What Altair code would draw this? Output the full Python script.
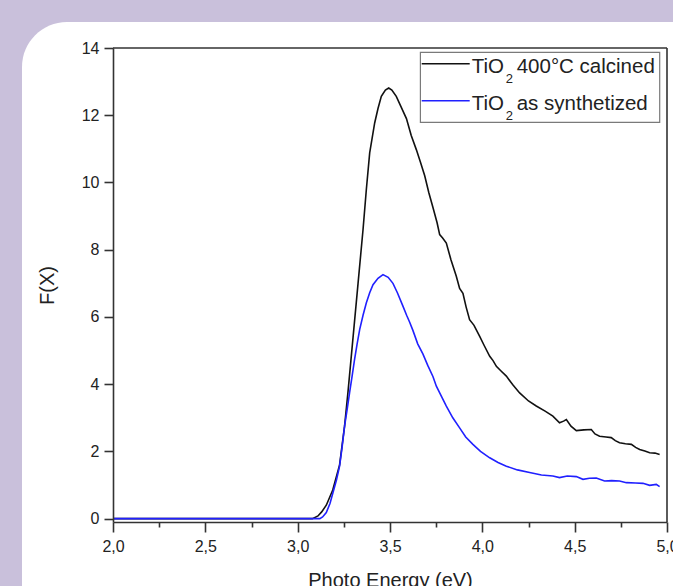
import altair as alt
import pandas as pd

# ---- data ----
calc_x = [2.00, 3.00, 3.08, 3.11, 3.13, 3.155, 3.19, 3.227, 3.254, 3.272, 3.30, 3.327, 3.354, 3.372,
          3.390, 3.417, 3.435, 3.453, 3.475, 3.493, 3.51, 3.534, 3.56, 3.589, 3.615, 3.643, 3.665,
          3.688, 3.71, 3.733, 3.755, 3.769, 3.785, 3.805, 3.83, 3.859, 3.877, 3.895, 3.912, 3.931,
          3.955, 3.985, 4.01, 4.040, 4.058, 4.076, 4.10, 4.130, 4.165, 4.202, 4.25, 4.292, 4.34,
          4.382, 4.418, 4.44, 4.455, 4.48, 4.509, 4.55, 4.590, 4.61, 4.635, 4.67, 4.698, 4.72,
          4.743, 4.775, 4.807, 4.83, 4.852, 4.88, 4.906, 4.935, 4.96]
calc_y = [0, 0, 0.0, 0.08, 0.2, 0.4, 0.85, 1.6, 2.75, 3.74, 5.4, 7.0, 8.6, 9.8,
          10.88, 11.77, 12.2, 12.56, 12.75, 12.81, 12.75, 12.56, 12.25, 11.9, 11.4, 10.97, 10.6,
          10.2, 9.7, 9.25, 8.8, 8.45, 8.35, 8.2, 7.7, 7.21, 6.85, 6.7, 6.3, 5.92,
          5.75, 5.43, 5.15, 4.83, 4.7, 4.53, 4.4, 4.24, 3.98, 3.74, 3.5, 3.35, 3.2,
          3.05, 2.85, 2.9, 2.95, 2.75, 2.62, 2.64, 2.65, 2.52, 2.45, 2.43, 2.41, 2.32,
          2.26, 2.23, 2.21, 2.12, 2.06, 2.01, 1.96, 1.95, 1.91]

syn_x = [2.00, 3.00, 3.12, 3.135, 3.155, 3.175, 3.191, 3.21, 3.227, 3.24, 3.254, 3.268, 3.281,
         3.295, 3.308, 3.322, 3.336, 3.354, 3.372, 3.39, 3.408, 3.435, 3.462, 3.49, 3.516, 3.54,
         3.570, 3.59, 3.606, 3.624, 3.65, 3.678, 3.705, 3.733, 3.751, 3.78, 3.805, 3.84, 3.877,
         3.91, 3.949, 3.99, 4.040, 4.085, 4.130, 4.19, 4.256, 4.32, 4.382, 4.418, 4.46, 4.509,
         4.545, 4.58, 4.617, 4.662, 4.70, 4.743, 4.78, 4.83, 4.87, 4.906, 4.942, 4.96]
syn_y = [0, 0, 0, 0.05, 0.18, 0.45, 0.77, 1.15, 1.56, 2.1, 2.75, 3.25, 3.74,
         4.25, 4.73, 5.2, 5.63, 6.05, 6.42, 6.72, 6.96, 7.15, 7.26, 7.18, 7.0, 6.72,
         6.32, 6.05, 5.85, 5.6, 5.2, 4.9, 4.55, 4.22, 3.94, 3.62, 3.35, 3.0, 2.70,
         2.43, 2.21, 2.0, 1.81, 1.67, 1.56, 1.45, 1.37, 1.3, 1.27, 1.22, 1.27, 1.25,
         1.17, 1.2, 1.21, 1.12, 1.13, 1.12, 1.07, 1.06, 1.05, 0.99, 1.02, 0.95]

series_names = ["TiO2 400°C calcined", "TiO2 as synthetized"]
series_colors = ["#111111", "#2020ff"]

x_ticks = [2.0 + 0.25 * i for i in range(13)]
y_ticks = list(range(0, 15))

X_DOMAIN = [2.0, 5.0]
Y_DOMAIN = [-0.1, 14.0]

df = pd.concat([
    pd.DataFrame({"x": calc_x, "y": calc_y, "s": series_names[0]}),
    pd.DataFrame({"x": syn_x, "y": syn_y, "s": series_names[1]}),
])

W, H = 554, 474
FONT = "Liberation Sans"

xs = alt.Scale(domain=X_DOMAIN, nice=False, zero=False)
ys = alt.Scale(domain=Y_DOMAIN, nice=False, zero=False)

x_axis = alt.Axis(
    values=x_ticks,
    labelExpr="abs(datum.value*2 - round(datum.value*2)) < 0.01 ? replace(format(datum.value, '.1f'), '.', ',') : ''",
    tickSize={"condition": {"test": "abs(datum.value*2 - round(datum.value*2)) < 0.01", "value": 10}, "value": 5},
    title="Photo Energy (eV)", grid=False, zindex=1, labelFlush=False, labelOverlap=False,
    labelPadding=6, titlePadding=16,
)
y_axis = alt.Axis(
    values=y_ticks,
    labelExpr="datum.value % 2 === 0 ? datum.label : ''",
    tickSize={"condition": {"test": "datum.value % 2 === 0", "value": 9}, "value": 5},
    title="F(X)", grid=False, zindex=1, labelFlush=False, labelOverlap=False,
    labelPadding=5, titlePadding=24,
)

# white rounded panel (decoration)
panel = alt.Chart(pd.DataFrame({"a": [0]})).mark_rect(
    fill="white", cornerRadius=45
).encode(
    x=alt.value(-91), x2=alt.value(W + 120), y=alt.value(-26), y2=alt.value(H + 160)
)

lines = alt.Chart(df).mark_line(strokeWidth=1.6, clip=True).encode(
    x=alt.X("x:Q", scale=xs, axis=x_axis),
    y=alt.Y("y:Q", scale=ys, axis=y_axis),
    color=alt.Color("s:N", scale=alt.Scale(domain=series_names, range=series_colors), legend=None),
    detail="s:N",
)

frame_top = alt.Chart(pd.DataFrame({"a": [0]})).mark_rule(color="#333333", strokeWidth=1.6).encode(
    x=alt.datum(X_DOMAIN[0], scale=xs), x2=alt.datum(X_DOMAIN[1]), y=alt.datum(Y_DOMAIN[1], scale=ys)
)
frame_right = alt.Chart(pd.DataFrame({"a": [0]})).mark_rule(color="#333333", strokeWidth=1.6).encode(
    x=alt.datum(X_DOMAIN[1], scale=xs), y=alt.datum(Y_DOMAIN[0], scale=ys), y2=alt.datum(Y_DOMAIN[1])
)

# legend (built by hand to get the subscript)
OX, OY = 113.3, 48.3
leg_box = alt.Chart(pd.DataFrame({"a": [0]})).mark_rect(
    fill="white", stroke="#7a7a7a", strokeWidth=1.2
).encode(x=alt.value(420.7 - OX), x2=alt.value(660 - OX), y=alt.value(52.7 - OY), y2=alt.value(122.7 - OY))

leg_layers = [leg_box]
row_y = [64, 101]
for i, name in enumerate(series_names):
    ry = row_y[i]
    leg_layers.append(
        alt.Chart(pd.DataFrame({"a": [0]})).mark_rule(color=series_colors[i], strokeWidth=1.5).encode(
            x=alt.value(422 - OX), x2=alt.value(470 - OX), y=alt.value(ry - OY)
        )
    )
    rest = name.replace("TiO2 ", "")
    leg_layers.append(
        alt.Chart(pd.DataFrame({"a": [0]})).mark_text(
            text="TiO", font=FONT, fontSize=20.5, align="left", baseline="alphabetic", color="#222222"
        ).encode(x=alt.value(472 - OX), y=alt.value(ry + 9.3 - OY))
    )
    leg_layers.append(
        alt.Chart(pd.DataFrame({"a": [0]})).mark_text(
            text="2", font=FONT, fontSize=13, align="left", baseline="alphabetic", color="#222222"
        ).encode(x=alt.value(506 - OX), y=alt.value(ry + 19.3 - OY))
    )
    leg_layers.append(
        alt.Chart(pd.DataFrame({"a": [0]})).mark_text(
            text=rest, font=FONT, fontSize=20.5, align="left", baseline="alphabetic", color="#222222"
        ).encode(x=alt.value(517 - OX), y=alt.value(ry + 9.3 - OY))
    )

chart = alt.layer(panel, lines, frame_top, frame_right, *leg_layers).properties(
    width=W, height=H,
    autosize=alt.AutoSizeParams(type="none"),
    padding={"left": 113, "top": 48, "right": 6, "bottom": 64},
    background="#c9c0db",
).configure_view(stroke=None).configure_axis(
    domainColor="#333333", domainWidth=1.6, tickColor="#333333", tickWidth=1.6,
    labelFont=FONT, labelFontSize=16, labelColor="#222222",
    titleFont=FONT, titleFontSize=20, titleFontWeight="normal", titleColor="#222222",
)

chart.save("out.html", embed_options={"renderer": "svg", "actions": False})
